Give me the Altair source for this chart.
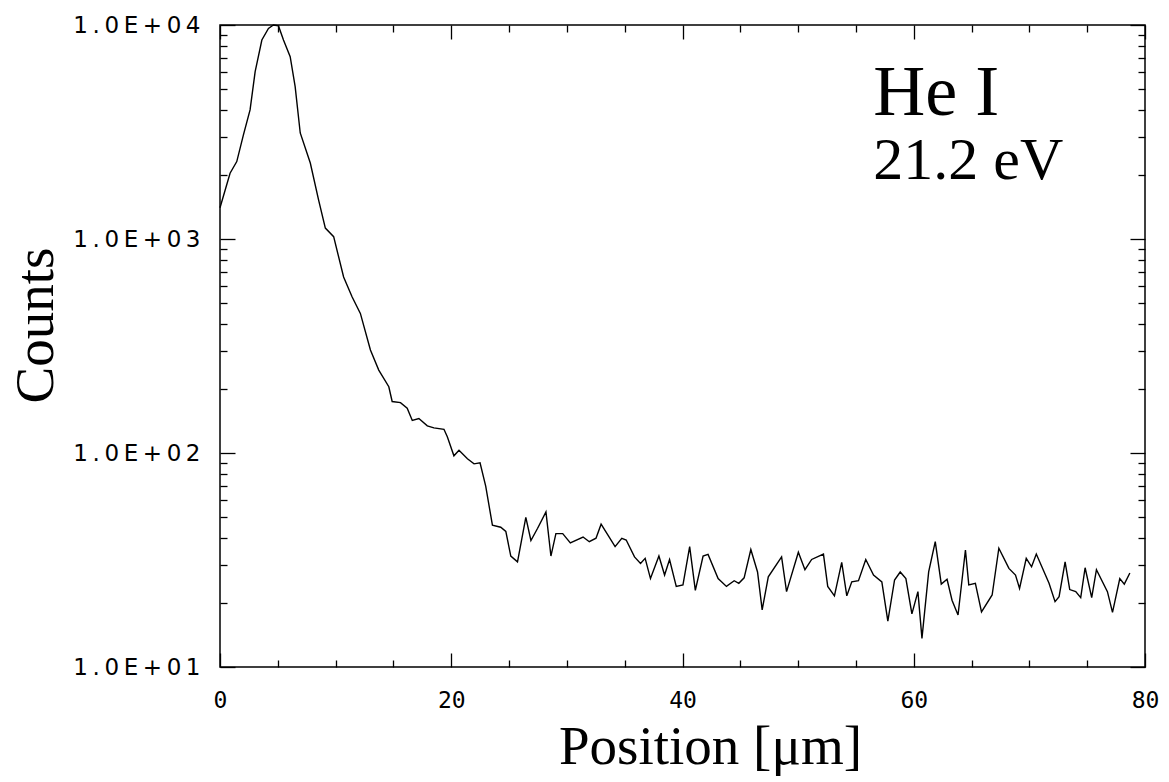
import altair as alt
import pandas as pd

# ---- data ----
positions = [0.0, 0.87, 1.45, 2.02, 2.60, 3.04, 3.62, 4.19, 4.62, 5.06, 5.49, 6.07, 6.50, 6.94,
             7.81, 8.53, 9.11, 9.83, 10.69, 11.42, 12.14, 13.01, 13.73, 14.60, 14.89, 15.61,
             16.19, 16.63, 17.20, 17.93, 18.50, 19.37, 19.66, 20.23, 20.67, 21.40, 21.97, 22.49,
             22.98, 23.56, 24.28, 24.72, 25.15, 25.73, 26.45, 26.89, 27.47, 28.19, 28.62, 29.05,
             29.64, 30.30, 31.40, 31.94, 32.52, 32.96, 33.54, 34.17, 34.75, 35.13, 35.85, 36.37,
             36.77, 37.23, 37.96, 38.45, 38.88, 39.46, 40.04, 40.62, 41.11, 41.78, 42.21, 43.08,
             43.80, 44.47, 44.87, 45.33, 45.91, 46.49, 46.89, 47.42, 48.57, 49.00, 50.02, 50.59,
             51.17, 52.19, 52.56, 53.14, 53.77, 54.21, 54.64, 55.22, 55.85, 56.52, 57.24, 57.76,
             58.34, 58.83, 59.32, 59.84, 60.36, 60.71, 61.29, 61.86, 62.38, 62.88, 63.31, 63.83,
             64.47, 64.76, 65.33, 65.86, 66.78, 67.36, 68.23, 68.80, 69.15, 69.73, 70.19, 70.60,
             71.70, 72.22, 72.57, 73.09, 73.49, 74.01, 74.44, 74.82, 75.39, 75.80, 76.75, 77.19,
             77.82, 78.21, 78.69]
counts = [1400, 2030, 2300, 3060, 4010, 6050, 8510, 9640, 10000, 9900, 8510, 7110, 5150, 3130,
          2265, 1520, 1125, 1025, 665, 537, 449, 303, 244, 204, 174, 172,
          162, 142, 145, 134, 131, 129, 119, 97, 103, 94, 89, 90,
          70, 46, 45, 43, 33, 31, 50, 39, 44.5, 53, 33, 42,
          42, 38, 40.5, 38.5, 40, 46.5, 41.4, 36.5, 39.9, 39.2, 32.7, 30.5,
          32.2, 25.9, 33, 26.9, 31.8, 23.8, 24.2, 36.5, 22.8, 33, 33.6, 25.9,
          23.8, 25.3, 24.6, 26.1, 35.4, 27.8, 18.5, 26.4, 32.7, 22.5, 34.4, 28.5,
          31.8, 33.7, 23.8, 21.5, 30.8, 21.5, 25.0, 25.3, 31.8, 26.9, 25.0, 16.4,
          25.5, 27.8, 25.9, 17.7, 22.5, 13.6, 27.8, 38.5, 24.4, 25.7, 20.5, 17.5,
          35.2, 24.2, 24.6, 18.1, 21.7, 35.9, 28.9, 26.9, 23.3, 32.2, 29.4, 33.7,
          24.6, 20.2, 21.3, 31.0, 23.0, 22.5, 21.1, 29.1, 21.1, 28.5, 22.5, 18.0,
          25.9, 24.4, 27.5]

x_major = [0, 20, 40, 60, 80]
x_minor = [5, 10, 15, 25, 30, 35, 45, 50, 55, 65, 70, 75]
y_major = [10, 100, 1000, 10000]
y_minor = [20, 30, 40, 50, 60, 70, 80, 90,
           200, 300, 400, 500, 600, 700, 800, 900,
           2000, 3000, 4000, 5000, 6000, 7000, 8000, 9000]

note1_text = ["He I"]
note1_x = [56.5]
note1_y = [3800]
note2_text = ["21.2 eV"]
note2_x = [56.5]
note2_y = [1900]

x_title = "Position [μm]"
y_title = "Counts"

df = pd.DataFrame({"position": positions, "counts": counts})

xscale = alt.Scale(domain=[0, 80], nice=False, zero=False)
yscale = alt.Scale(type="log", domain=[10, 10000], nice=False)

TS = "\u2009"
ylabel_expr = ("'1" + TS + "." + TS + "0" + TS + "E" + TS + "+" + TS + "0" + TS + "' + "
               "round(log(datum.value)/LN10)")


def tick_axis(orient, vals, size):
    return alt.Axis(orient=orient, values=vals, labels=False, domain=False, grid=False,
                    ticks=True, tickSize={"expr": str(-size)}, tickColor="black",
                    tickWidth=1.3, title=None)


def layer(xaxis, yaxis, opacity):
    return alt.Chart(df).mark_line(color="black", strokeWidth=1.4, opacity=opacity).encode(
        x=alt.X("position:Q", scale=xscale, axis=xaxis),
        y=alt.Y("counts:Q", scale=yscale, axis=yaxis),
    )


x_label_axis = alt.Axis(
    orient="bottom", values=x_major, ticks=False, domain=False, grid=False,
    labelFont="DejaVu Sans Mono", labelFontSize=23, labelPadding=22, labelColor="black",
    labelFlush=False, labelOverlap=False,
    title=x_title, titleFont="Liberation Serif", titleFontSize=55, titleFontWeight="normal",
    titleColor="black", titleX=490, titleY=96, titleBaseline="alphabetic",
)
y_label_axis = alt.Axis(
    orient="left", values=y_major, ticks=False, domain=False, grid=False,
    labelFont="DejaVu Sans", labelFontSize=23, labelPadding=20, labelColor="black",
    labelExpr=ylabel_expr, labelFlush=False, labelOverlap=False,
    title=y_title, titleFont="Liberation Serif", titleFontSize=55, titleFontWeight="normal",
    titleColor="black", titleX=-168, titleY=300, titleBaseline="alphabetic", titleAngle=270,
)

main = layer(x_label_axis, y_label_axis, 1)
l2 = layer(tick_axis("bottom", x_major, 14), tick_axis("left", y_major, 15), 0)
l3 = layer(tick_axis("bottom", x_minor, 7), tick_axis("left", y_minor, 7), 0)
l4 = layer(tick_axis("top", x_major, 14), tick_axis("right", y_major, 15), 0)
l5 = layer(tick_axis("top", x_minor, 7), tick_axis("right", y_minor, 7), 0)

n1 = alt.Chart(pd.DataFrame({"t": note1_text, "x": note1_x, "y": note1_y})).mark_text(
    font="Liberation Serif", fontSize=72, align="left", baseline="alphabetic", color="black"
).encode(x=alt.X("x:Q", scale=xscale, axis=None), y=alt.Y("y:Q", scale=yscale, axis=None), text="t:N")
n2 = alt.Chart(pd.DataFrame({"t": note2_text, "x": note2_x, "y": note2_y})).mark_text(
    font="Liberation Serif", fontSize=60, align="left", baseline="alphabetic", color="black"
).encode(x=alt.X("x:Q", scale=xscale, axis=None), y=alt.Y("y:Q", scale=yscale, axis=None), text="t:N")

chart = alt.layer(main, l2, l3, l4, l5, n1, n2).resolve_scale(
    x="shared", y="shared"
).resolve_axis(
    x="independent", y="independent"
).properties(
    width=925, height=642,
    autosize=alt.AutoSizeParams(type="none"),
    padding={"left": 220, "top": 25, "right": 24, "bottom": 115},
    background="white",
).configure_view(stroke="black", strokeWidth=1.5)

chart.save("out.html", embed_options={"renderer": "svg", "actions": False})
